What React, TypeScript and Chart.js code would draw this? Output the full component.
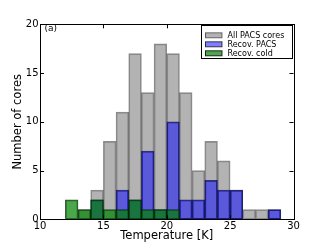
import React, { useEffect, useRef } from "react";
import { Chart, registerables } from "chart.js";

Chart.register(...registerables);

// Histogram bins (left edges, 1 K wide)
const binStarts = [12, 13, 14, 15, 16, 17, 18, 19, 20, 21, 22, 23, 24, 25, 26, 27, 28];
const allPacsCores = [0, 1, 3, 8, 11, 17, 13, 18, 17, 13, 5, 8, 6, 3, 1, 1, 1];
const recovPacs = [0, 0, 2, 0, 3, 2, 7, 1, 10, 2, 2, 4, 3, 3, 0, 0, 1];
const recovCold = [2, 1, 2, 1, 1, 2, 1, 1, 1, 0, 0, 0, 0, 0, 0, 0, 0];
const xTicks = [10, 15, 20, 25, 30];
const yTicks = [0, 5, 10, 15, 20];
const seriesLabels = ["All PACS cores", "Recov. PACS", "Recov. cold"];
const panelLabel = "(a)";
const xTitle = "Temperature [K]";
const yTitle = "Number of cores";

const FONT = "DejaVu Sans";

const toPoints = (vals: number[]) =>
  binStarts.map((b, i) => ({ x: b + 0.5, y: vals[i] > 0 ? vals[i] : null }));

const legendSwatches = [
  { fill: "rgba(128,128,128,0.6)", edge: "rgba(0,0,0,0.5)" },
  { fill: "rgba(0,0,255,0.5)", edge: "rgba(0,0,0,0.7)" },
  { fill: "rgba(0,128,0,0.7)", edge: "rgba(0,0,0,0.8)" },
];

const framePlugin = {
  id: "frameTicksLegend",
  afterDatasetsDraw(chart: any) {
    const { ctx, chartArea, scales } = chart;
    const { left, right, top, bottom } = chartArea;
    ctx.save();
    ctx.strokeStyle = "#000";
    ctx.lineWidth = 1;
    // frame
    ctx.strokeRect(Math.round(left) + 0.5, Math.round(top) + 0.5, Math.round(right) - Math.round(left), Math.round(bottom) - Math.round(top));
    // inward ticks
    const tl = 4;
    ctx.beginPath();
    xTicks.forEach((v) => {
      const px = Math.round(scales.xt.getPixelForValue(v)) + 0.5;
      ctx.moveTo(px, bottom);
      ctx.lineTo(px, bottom - tl);
      ctx.moveTo(px, top);
      ctx.lineTo(px, top + tl);
    });
    yTicks.forEach((v) => {
      const py = Math.round(scales.y.getPixelForValue(v)) + 0.5;
      ctx.moveTo(left, py);
      ctx.lineTo(left + tl, py);
      ctx.moveTo(right, py);
      ctx.lineTo(right - tl, py);
    });
    ctx.stroke();

    // panel label
    ctx.fillStyle = "#000";
    ctx.font = `9px "${FONT}"`;
    ctx.textAlign = "left";
    ctx.textBaseline = "middle";
    ctx.fillText(panelLabel, left + 4.5, top + 4.5);

    // legend
    const bw = 90.5;
    const bh = 32.5;
    const bx = right - 2 - bw;
    const by = top + 1;
    ctx.fillStyle = "#fff";
    ctx.fillRect(bx, by, bw, bh);
    ctx.strokeStyle = "#000";
    ctx.strokeRect(Math.round(bx) + 0.5, Math.round(by) + 0.5, Math.round(bw), Math.round(bh));
    ctx.font = `8px "${FONT}"`;
    chart.data.datasets.forEach((ds: any, i: number) => {
      const cy = by + 10 + i * 9;
      const sw = legendSwatches[i];
      ctx.fillStyle = sw.fill;
      ctx.fillRect(bx + 4, cy - 2.5, 17, 5);
      ctx.strokeStyle = sw.edge;
      ctx.strokeRect(bx + 4.5, cy - 2.5, 16.5, 5);
      ctx.fillStyle = "#000";
      ctx.fillText(ds.label, bx + 26.5, cy + 0.5);
    });
    ctx.restore();
  },
};

export default function App() {
  const ref = useRef<HTMLCanvasElement>(null);
  useEffect(() => {
    if (!ref.current) return;
    const chart = new Chart(ref.current, {
      type: "bar",
      data: {
        datasets: [
          {
            label: seriesLabels[0],
            data: toPoints(allPacsCores),
            backgroundColor: "rgba(128,128,128,0.6)",
            borderColor: "rgba(0,0,0,0.45)",
            borderWidth: 1,
            borderSkipped: false,
            order: 3,
          },
          {
            label: seriesLabels[1],
            data: toPoints(recovPacs),
            backgroundColor: "rgba(0,0,255,0.5)",
            borderColor: "rgba(0,0,60,0.7)",
            borderWidth: 1,
            borderSkipped: false,
            order: 2,
          },
          {
            label: seriesLabels[2],
            data: toPoints(recovCold),
            backgroundColor: "rgba(0,128,0,0.7)",
            borderColor: "rgba(0,30,0,0.75)",
            borderWidth: 1,
            borderSkipped: false,
            order: 1,
          },
        ] as any,
      },
      options: {
        animation: false,
        responsive: false,
        maintainAspectRatio: false,
        grouped: false,
        barPercentage: 1,
        categoryPercentage: 1,
        layout: { padding: { top: 24.3, right: 31.5, left: 0, bottom: 0 } },
        plugins: { legend: { display: false }, tooltip: { enabled: false } },
        scales: {
          x: {
            type: "linear",
            min: 10,
            max: 30,
            offset: false,
            display: false,
          },
          xt: {
            type: "linear",
            position: "bottom",
            min: 10,
            max: 30,
            offset: false,
            afterBuildTicks: (s: any) => {
              s.ticks = xTicks.map((v) => ({ value: v }));
            },
            afterFit: (s: any) => {
              s.height = 24.7;
            },
            grid: { display: false, drawTicks: false },
            border: { display: false },
            ticks: {
              font: { family: FONT, size: 10 },
              color: "#000",
              padding: 1,
              maxRotation: 0,
              autoSkip: false,
            },
            title: {
              display: true,
              text: xTitle,
              font: { family: FONT, size: 11.5 },
              color: "#000",
              padding: { top: 0, bottom: 0.6 },
            },
          },
          y: {
            min: 0,
            max: 20,
            afterBuildTicks: (s: any) => {
              s.ticks = yTicks.map((v) => ({ value: v }));
            },
            afterFit: (s: any) => {
              s.width = 40;
            },
            grid: { display: false, drawTicks: false },
            border: { display: false },
            ticks: {
              font: { family: FONT, size: 10 },
              color: "#000",
              padding: 1.5,
            },
            title: {
              display: true,
              text: yTitle,
              font: { family: FONT, size: 11.5 },
              color: "#000",
              padding: { top: 11, bottom: 0 },
            },
          },
        },
      } as any,
      plugins: [framePlugin],
    });
    return () => chart.destroy();
  }, []);
  return (
    <div style={{ position: "fixed", left: 0, top: 0, width: 325, height: 244, background: "#fff" }}>
      <canvas ref={ref} width={325} height={244} style={{ display: "block" }} />
    </div>
  );
}
